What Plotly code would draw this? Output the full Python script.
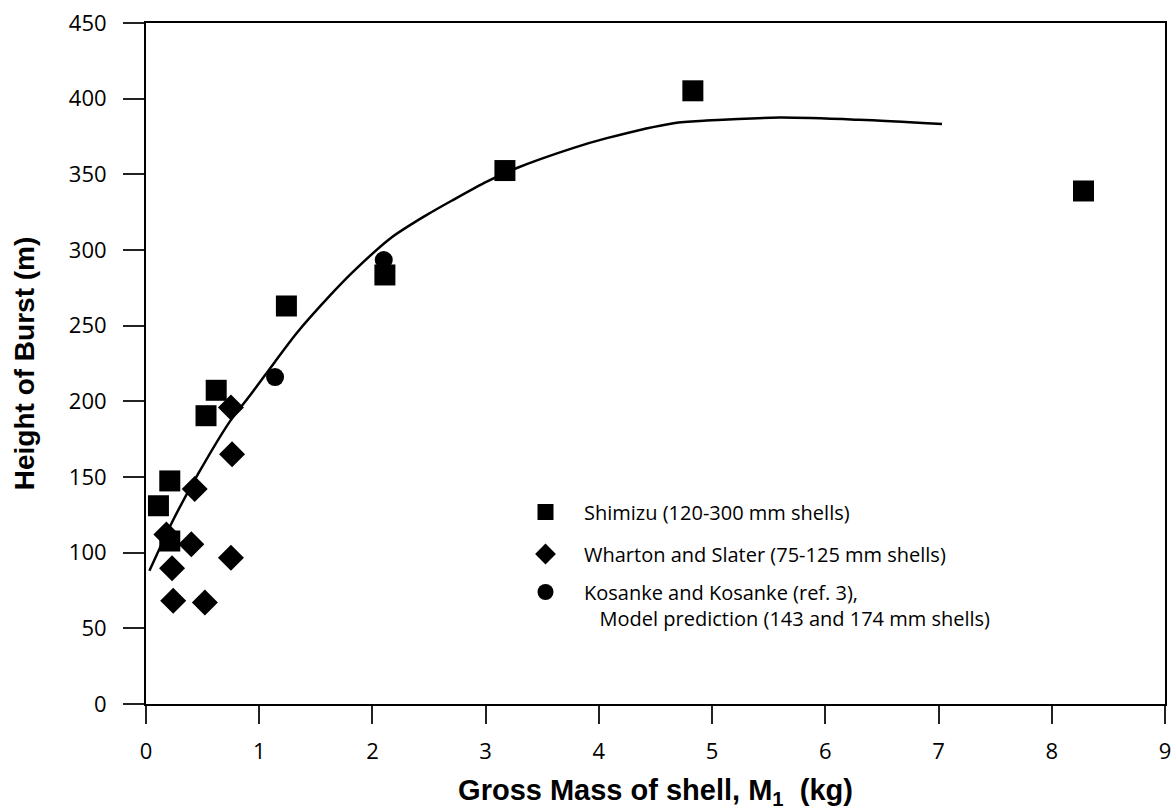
import plotly.graph_objects as go

# Shimizu (120-300 mm shells)
shimizu_x = [0.11, 0.21, 0.21, 0.53, 0.62, 1.24, 2.11, 3.17, 4.83, 8.28]
shimizu_y = [131, 147.4, 107.7, 190.5, 207.3, 263, 283.5, 352.5, 405.2, 339]

# Wharton and Slater (75-125 mm shells)
wharton_x = [0.18, 0.23, 0.24, 0.40, 0.43, 0.52, 0.75, 0.76, 0.75]
wharton_y = [112, 89.7, 68.3, 105.5, 142, 67, 96.7, 165, 196]

# Kosanke and Kosanke model prediction
kosanke_x = [1.14, 2.10]
kosanke_y = [216, 293.4]

# Fitted curve
curve_x = [0.03, 0.24, 0.46, 0.74, 0.92, 1.13, 1.33, 1.63, 1.83, 2.16, 2.48, 2.71,
           3.01, 3.27, 3.77, 4.07, 4.66, 4.95, 5.60, 6.30, 7.03]
curve_y = [88, 121.6, 152, 186.6, 204, 225.2, 245, 270.3, 285.7, 307.8, 323.2, 333,
           345.2, 354, 367.3, 373.9, 383.8, 385.5, 387.5, 386, 383.2]

x_ticks = [0, 1, 2, 3, 4, 5, 6, 7, 8, 9]
y_ticks = [0, 50, 100, 150, 200, 250, 300, 350, 400, 450]

fig = go.Figure()

fig.add_trace(go.Scatter(
    x=curve_x, y=curve_y, mode="lines",
    line=dict(color="black", width=2.5, shape="spline", smoothing=0.8),
    showlegend=False, hoverinfo="skip"))

fig.add_trace(go.Scatter(
    x=shimizu_x, y=shimizu_y, mode="markers",
    marker=dict(symbol="square", size=21, color="black"),
    name="Shimizu (120-300 mm shells)", legend="legend"))

fig.add_trace(go.Scatter(
    x=wharton_x, y=wharton_y, mode="markers",
    marker=dict(symbol="diamond", size=20, color="black"),
    name="Wharton and Slater (75-125 mm shells)", legend="legend2"))

fig.add_trace(go.Scatter(
    x=kosanke_x, y=kosanke_y, mode="markers",
    marker=dict(symbol="circle", size=18, color="black"),
    name="Kosanke and Kosanke (ref. 3),<br>&nbsp;&nbsp;&nbsp;Model prediction (143 and 174 mm shells)",
    legend="legend3"))

L, R, T, B = 146, 8, 23, 106
W, H = 1173, 810
pw = W - L - R
ph = H - T - B

def px(xp):
    return (xp - L) / pw

def py(yp):
    return (H - B - yp) / ph

leg_font = dict(family="Open Sans", size=20, color="black")
common = dict(xanchor="left", yanchor="middle", bgcolor="rgba(0,0,0,0)",
              font=leg_font, itemwidth=67)

fig.update_layout(
    width=W, height=H,
    margin=dict(l=L, r=R, t=T, b=B, autoexpand=False),
    paper_bgcolor="white", plot_bgcolor="white",
    legend=dict(x=px(507), y=py(512), **common),
    legend2=dict(x=px(507), y=py(554), **common),
    legend3=dict(x=px(507), y=py(605), valign="top", **common),
    xaxis=dict(
        range=[0, 9], tickvals=x_ticks, ticktext=[str(v) for v in x_ticks],
        showline=True, linecolor="black", linewidth=2, mirror=True,
        ticks="outside", ticklen=18, tickwidth=1.5, tickcolor="#222",
        showgrid=False, zeroline=False, automargin=False, ticklabelstandoff=9,
        tickfont=dict(family="Open Sans", size=22, color="black"),
        title=dict(text="Gross Mass of shell, M<sub>1</sub>&nbsp;&nbsp;(kg)",
                   font=dict(family="Liberation Sans", size=29, color="black", weight="bold"),
                   standoff=24),
    ),
    yaxis=dict(
        range=[0, 450], tickvals=y_ticks, ticktext=[str(v) for v in y_ticks],
        showline=True, linecolor="black", linewidth=2, mirror=True,
        ticks="outside", ticklen=21, tickwidth=1.5, tickcolor="#222",
        showgrid=False, zeroline=False, ticklabelstandoff=12, automargin=False,
        tickfont=dict(family="Open Sans", size=22, color="black"),
        title=dict(text="Height of Burst (m)",
                   font=dict(family="Liberation Sans", size=28, color="black", weight="bold"),
                   standoff=26),
    ),
)

fig.write_html("out.html")
